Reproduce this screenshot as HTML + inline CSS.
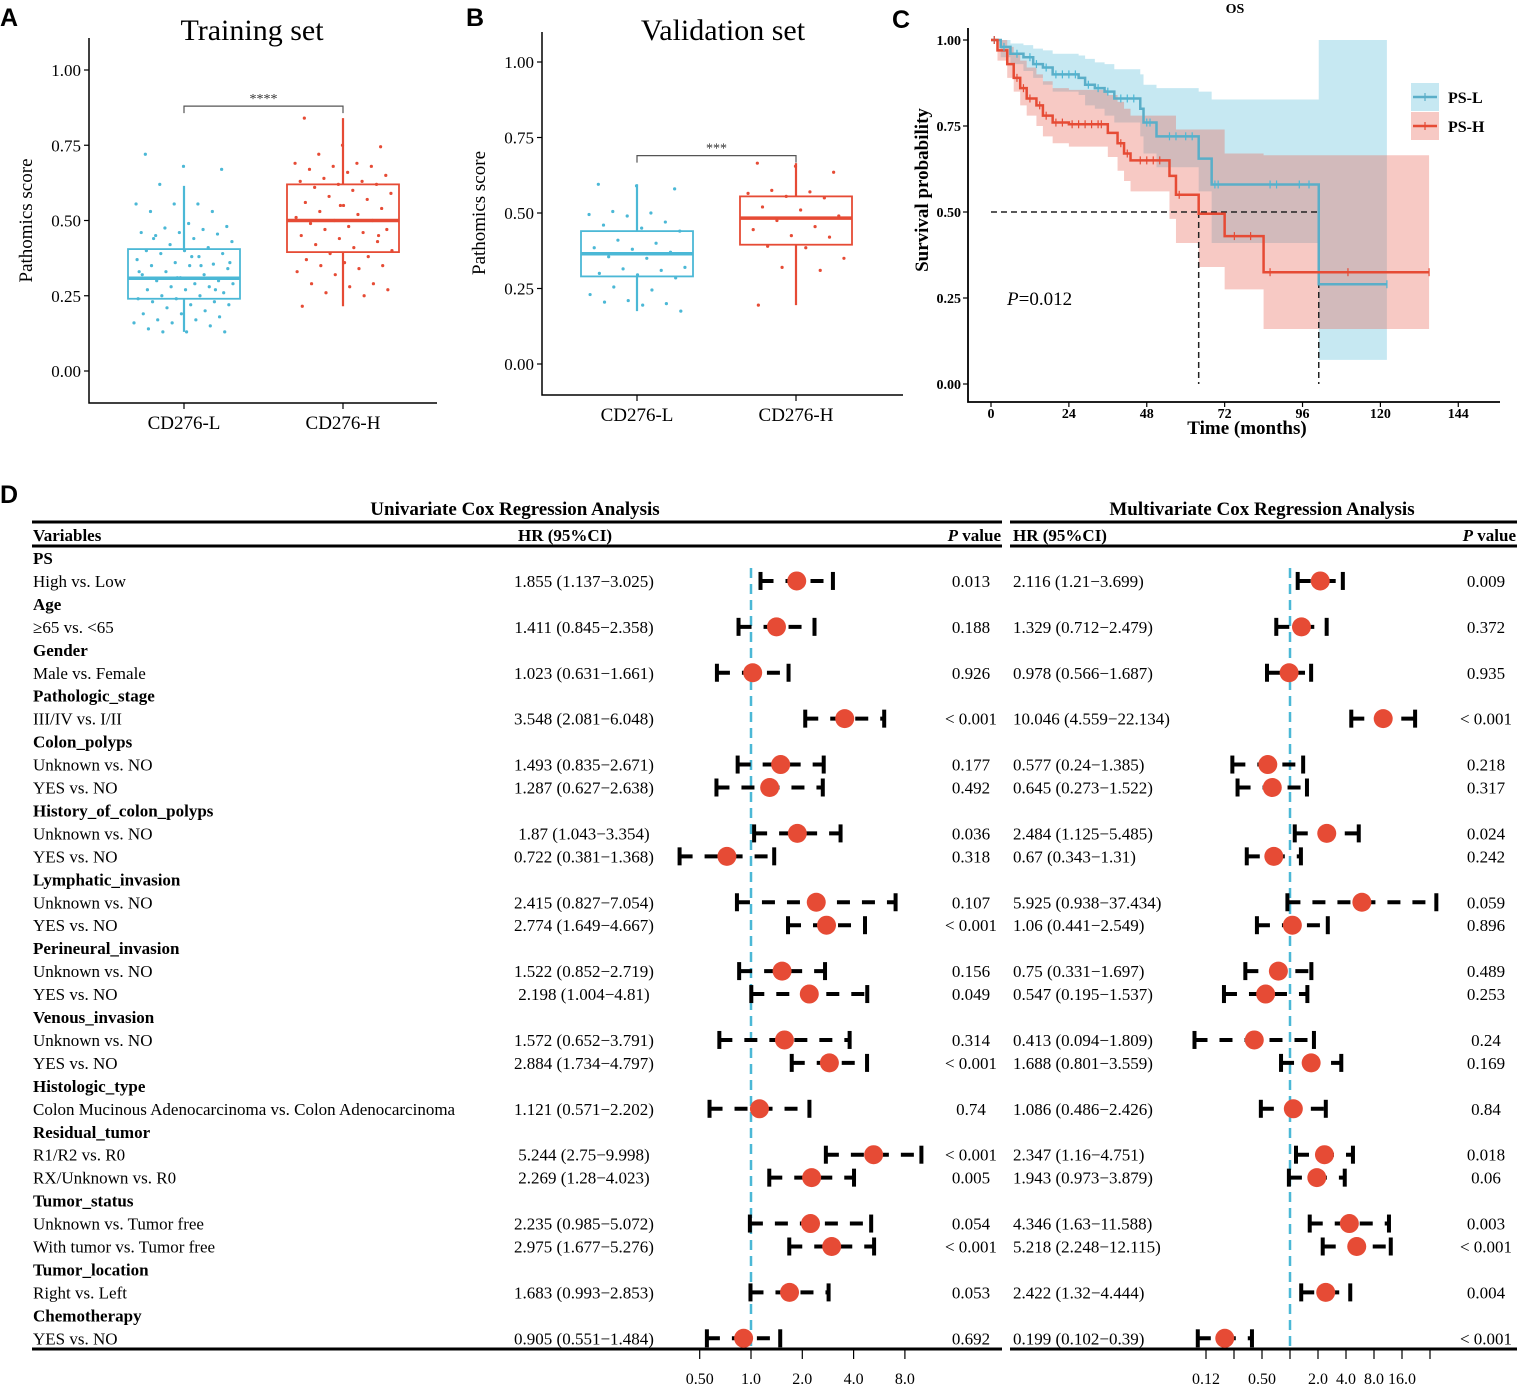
<!DOCTYPE html>
<html><head><meta charset="utf-8">
<style>
html,body{margin:0;padding:0;background:#fff;}
svg{display:block;font-family:"Liberation Serif",serif;}
</style></head>
<body>
<svg id="fig" width="1523" height="1389" viewBox="0 0 1523 1389" xmlns="http://www.w3.org/2000/svg">
<g id="pA"></g>
<g id="pB"></g>
<g id="pC"></g>
<g id="pD"></g>
</svg>
<script>
// ---------- Panel A / B data ----------
const boxCategories = ["CD276-L","CD276-H"];
const trainQ1 = [0.24,0.395], trainMed=[0.308,0.50], trainQ3=[0.405,0.62], trainLo=[0.13,0.215], trainHi=[0.615,0.84];
const trainPtsL = [0.72,0.68,0.67,0.62,0.555,0.555,0.555,0.53,0.53,0.49,0.48,0.475,0.47,0.46,0.46,0.455,0.45,0.44,0.43,0.42,0.41,0.40,0.40,0.39,0.39,0.38,0.37,0.36,0.355,0.35,0.35,0.34,0.33,0.32,0.32,0.31,0.30,0.30,0.29,0.29,0.28,0.28,0.27,0.27,0.26,0.25,0.25,0.24,0.24,0.23,0.23,0.22,0.22,0.21,0.20,0.19,0.19,0.18,0.17,0.17,0.16,0.16,0.15,0.14,0.13,0.13,0.13,0.35,0.33,0.31,0.27,0.44,0.38,0.36];
const trainPtsH = [0.84,0.75,0.745,0.72,0.69,0.69,0.68,0.68,0.67,0.66,0.65,0.64,0.63,0.63,0.62,0.62,0.61,0.60,0.59,0.58,0.57,0.56,0.55,0.54,0.53,0.52,0.51,0.50,0.50,0.49,0.48,0.47,0.47,0.46,0.45,0.44,0.43,0.42,0.41,0.40,0.39,0.38,0.37,0.36,0.35,0.35,0.34,0.33,0.32,0.29,0.29,0.28,0.27,0.26,0.25,0.215,0.55,0.45];
const validQ1 = [0.29,0.395], validMed=[0.365,0.483], validQ3=[0.44,0.555], validLo=[0.175,0.195], validHi=[0.595,0.665];
const validPtsL = [0.595,0.59,0.58,0.505,0.5,0.495,0.49,0.47,0.46,0.45,0.44,0.41,0.40,0.385,0.38,0.37,0.355,0.35,0.32,0.315,0.31,0.30,0.295,0.285,0.255,0.245,0.23,0.21,0.20,0.205,0.195,0.175];
const validPtsH = [0.665,0.655,0.635,0.575,0.57,0.565,0.555,0.55,0.52,0.51,0.49,0.475,0.455,0.445,0.425,0.42,0.39,0.385,0.35,0.32,0.31,0.195];

// ---------- Panel C data ----------
const timeTicks = [0,24,48,72,96,120,144];
const survTicks = [0,0.25,0.5,0.75,1.0];
const kmLTime = [0,3,6,10,13,16,19,27,29,32,35,38,46,47,51,64,68,101];
const kmLSurv = [1,0.98,0.96,0.95,0.93,0.92,0.90,0.89,0.87,0.86,0.85,0.83,0.80,0.76,0.72,0.655,0.58,0.29];
const kmLUp   = [1,1,0.99,0.985,0.975,0.97,0.96,0.955,0.945,0.935,0.93,0.915,0.90,0.87,0.86,0.85,0.827,1.0];
const kmLLow  = [1,0.95,0.93,0.91,0.89,0.87,0.85,0.84,0.81,0.80,0.78,0.76,0.72,0.67,0.63,0.56,0.41,0.07];
const kmLEnd = 122;
const kmHTime = [0,2,5,7,9,11,14,16,19,24,36,39,41,43,55,57,64,72,84];
const kmHSurv = [1,0.97,0.93,0.89,0.86,0.83,0.81,0.78,0.76,0.755,0.73,0.70,0.67,0.65,0.605,0.55,0.495,0.43,0.325];
const kmHUp   = [1,1,0.98,0.96,0.94,0.92,0.90,0.88,0.86,0.855,0.84,0.82,0.80,0.78,0.78,0.74,0.74,0.67,0.665];
const kmHLow  = [1,0.94,0.89,0.85,0.81,0.78,0.75,0.72,0.70,0.69,0.66,0.62,0.59,0.56,0.48,0.41,0.34,0.275,0.16];
const kmHEnd = 135;
const censorL = [1,4,8,12,14,17,20,22,24,26,30,33,36,40,42,44,48,49,55,57,60,62,69,70,86,88,95,98,122];
const censorH = [1,8,10,12,15,17,20,22,25,27,29,31,33,34,40,42,46,48,50,52,58,75,80,86,110,135];

// ---------- Panel D data ----------
const forestLabels = ["PS","High vs. Low","Age","≥65 vs. <65","Gender","Male vs. Female","Pathologic_stage","III/IV vs. I/II","Colon_polyps","Unknown vs. NO","YES vs. NO","History_of_colon_polyps","Unknown vs. NO","YES vs. NO","Lymphatic_invasion","Unknown vs. NO","YES vs. NO","Perineural_invasion","Unknown vs. NO","YES vs. NO","Venous_invasion","Unknown vs. NO","YES vs. NO","Histologic_type","Colon Mucinous Adenocarcinoma vs. Colon Adenocarcinoma","Residual_tumor","R1/R2 vs. R0","RX/Unknown vs. R0","Tumor_status","Unknown vs. Tumor free","With tumor vs. Tumor free","Tumor_location","Right vs. Left","Chemotherapy","YES vs. NO"];
const forestHeader = [1,0,1,0,1,0,1,0,1,0,0,1,0,0,1,0,0,1,0,0,1,0,0,1,0,1,0,0,1,0,0,1,0,1,0];
const uniHR = [1.855,1.411,1.023,3.548,1.493,1.287,1.87,0.722,2.415,2.774,1.522,2.198,1.572,2.884,1.121,5.244,2.269,2.235,2.975,1.683,0.905];
const uniLo = [1.137,0.845,0.631,2.081,0.835,0.627,1.043,0.381,0.827,1.649,0.852,1.004,0.652,1.734,0.571,2.75,1.28,0.985,1.677,0.993,0.551];
const uniHi = [3.025,2.358,1.661,6.048,2.671,2.638,3.354,1.368,7.054,4.667,2.719,4.81,3.791,4.797,2.202,9.998,4.023,5.072,5.276,2.853,1.484];
const uniP = ["0.013","0.188","0.926","< 0.001","0.177","0.492","0.036","0.318","0.107","< 0.001","0.156","0.049","0.314","< 0.001","0.74","< 0.001","0.005","0.054","< 0.001","0.053","0.692"];
const mulHR = [2.116,1.329,0.978,10.046,0.577,0.645,2.484,0.67,5.925,1.06,0.75,0.547,0.413,1.688,1.086,2.347,1.943,4.346,5.218,2.422,0.199];
const mulLo = [1.21,0.712,0.566,4.559,0.24,0.273,1.125,0.343,0.938,0.441,0.331,0.195,0.094,0.801,0.486,1.16,0.973,1.63,2.248,1.32,0.102];
const mulHi = [3.699,2.479,1.687,22.134,1.385,1.522,5.485,1.31,37.434,2.549,1.697,1.537,1.809,3.559,2.426,4.751,3.879,11.588,12.115,4.444,0.39];
const mulP = ["0.009","0.372","0.935","< 0.001","0.218","0.317","0.024","0.242","0.059","0.896","0.489","0.253","0.24","0.169","0.84","0.018","0.06","0.003","< 0.001","0.004","< 0.001"];
const uniTicks = [0.5,1,2,4,8], uniTickLabels=["0.50","1.0","2.0","4.0","8.0"];
const mulTicks = [0.125,0.25,0.5,1,2,4,8,16,32], mulTickLabels=["0.12","","0.50","","2.0","4.0","8.0","16.0",""];

const NS="http://www.w3.org/2000/svg";
function mk(parent,tag,attrs,txt){const e=document.createElementNS(NS,tag);for(const k in attrs)e.setAttribute(k,attrs[k]);if(txt!==undefined)e.textContent=txt;parent.appendChild(e);return e;}
const BLUE="#4bb8d6", RED="#e64b35";

function boxPanel(g,o){
  const y=v=>o.y0 - v*o.sy;
  const ax=mk(g,'path',{d:`M${o.ax} ${o.top}V${o.bot}H${o.right}`,stroke:'#000','stroke-width':1.5,fill:'none'});
  
  [0,0.25,0.5,0.75,1].forEach(v=>{
    mk(g,'line',{x1:o.ax-5,x2:o.ax,y1:y(v),y2:y(v),stroke:'#000','stroke-width':1.2});
    const t=mk(g,'text',{x:o.ax-8,y:y(v)+6,'text-anchor':'end','font-size':17},v.toFixed(2));
    
  });
  const yl=mk(g,'text',{transform:`translate(${o.ax-57},${y(0.5)}) rotate(-90)`,'text-anchor':'middle','font-size':19},'Pathomics score');
  
  const tt=mk(g,'text',{x:o.titleX,y:40,'text-anchor':'middle','font-size':30},o.title);
  
  const cols=[BLUE,RED];
  for(let i=0;i<2;i++){
    const cx=o.cx[i], c=cols[i], hw=56;
    mk(g,'line',{x1:cx,x2:cx,y1:o.bot,y2:o.bot+6,stroke:'#000','stroke-width':1.2});
    const xl=mk(g,'text',{x:cx,y:o.bot+26,'text-anchor':'middle','font-size':19},boxCategories[i]);
    
    const wh=mk(g,'line',{x1:cx,x2:cx,y1:y(o.lo[i]),y2:y(o.hi[i]),stroke:c,'stroke-width':2.2});
    
    const bx=mk(g,'rect',{x:cx-hw,y:y(o.q3[i]),width:hw*2,height:y(o.q1[i])-y(o.q3[i]),fill:'#fff',stroke:c,'stroke-width':1.8});
    
    const md=mk(g,'line',{x1:cx-hw,x2:cx+hw,y1:y(o.med[i]),y2:y(o.med[i]),stroke:c,'stroke-width':3.5});
    
    o.pts[i].forEach((v,k)=>{
      const jx=(((k*37+11)%97)/97-0.5)*100;
      const p=mk(g,'circle',{cx:cx+jx,cy:y(v),r:1.6,fill:c});
      
    });
  }
  const by=y(o.brY);
  const br=mk(g,'path',{d:`M${o.cx[0]} ${by+7}V${by}H${o.cx[1]}V${by+7}`,stroke:'#555','stroke-width':1.2,fill:'none'});
  
  const st=mk(g,'text',{x:(o.cx[0]+o.cx[1])/2,y:by-3,'text-anchor':'middle','font-size':14,fill:'#333'},o.stars);
  
  const lt=mk(g,'text',{x:o.letterX,y:26,'font-size':25,'font-weight':'bold','font-family':'Liberation Sans, sans-serif'},o.letter);
  
}
boxPanel(document.getElementById('pA'),{y0:371,sy:301,ax:89,top:38,bot:403,right:437,cx:[184,343],title:'Training set',titleX:252,
  q1:trainQ1,med:trainMed,q3:trainQ3,lo:trainLo,hi:trainHi,pts:[trainPtsL,trainPtsH],brY:0.88,stars:'****',letter:'A',letterX:0});
boxPanel(document.getElementById('pB'),{y0:364,sy:302,ax:542,top:32,bot:395,right:903,cx:[637,796],title:'Validation set',titleX:723,
  q1:validQ1,med:validMed,q3:validQ3,lo:validLo,hi:validHi,pts:[validPtsL,validPtsH],brY:0.69,stars:'***',letter:'B',letterX:466});

// ---------- Panel C ----------
(function(){
  const g=document.getElementById('pC');
  const x=t=>991+t*3.245, y=s=>384-s*344;
  function band(T,Lo,Up,end){let d=`M${x(T[0])} ${y(Up[0])}`;for(let i=0;i<T.length;i++){const t2=i+1<T.length?T[i+1]:end;d+=`L${x(T[i])} ${y(Up[i])}L${x(t2)} ${y(Up[i])}`;}
    for(let i=T.length-1;i>=0;i--){const t2=i+1<T.length?T[i+1]:end;d+=`L${x(t2)} ${y(Lo[i])}L${x(T[i])} ${y(Lo[i])}`;}return d+'Z';}
  function step(T,S,end){let d=`M${x(T[0])} ${y(S[0])}`;for(let i=0;i<T.length;i++){const t2=i+1<T.length?T[i+1]:end;d+=`L${x(T[i])} ${y(S[i])}L${x(t2)} ${y(S[i])}`;}return d;}
  function survAt(T,S,t){let s=S[0];for(let i=0;i<T.length;i++)if(T[i]<=t)s=S[i];return s;}
  const b1=mk(g,'path',{d:band(kmLTime,kmLLow,kmLUp,kmLEnd),fill:'rgba(120,200,225,0.42)'});
  
  const b2=mk(g,'path',{d:band(kmHTime,kmHLow,kmHUp,kmHEnd),fill:'rgba(232,100,85,0.35)'});
  
  const dl=mk(g,'path',{d:`M${x(0)} ${y(0.5)}H${x(101)}M${x(64)} ${y(0.5)}V${y(0)}M${x(101)} ${y(0.5)}V${y(0)}`,stroke:'#222','stroke-width':1.5,'stroke-dasharray':'6 4',fill:'none'});
  
  const l1=mk(g,'path',{d:step(kmLTime,kmLSurv,kmLEnd),stroke:'#5aaec8','stroke-width':2.5,fill:'none'});
  
  const l2=mk(g,'path',{d:step(kmHTime,kmHSurv,kmHEnd),stroke:'#e64b35','stroke-width':2.5,fill:'none'});
  
  censorL.forEach(t=>{const c=mk(g,'line',{x1:x(t),x2:x(t),y1:y(survAt(kmLTime,kmLSurv,t))-4,y2:y(survAt(kmLTime,kmLSurv,t))+4,stroke:BLUE,'stroke-width':1.2});
    });
  censorH.forEach(t=>{const c=mk(g,'line',{x1:x(t),x2:x(t),y1:y(survAt(kmHTime,kmHSurv,t))-4,y2:y(survAt(kmHTime,kmHSurv,t))+4,stroke:RED,'stroke-width':1.2});
    });
  const ax=mk(g,'path',{d:`M968 28V402H1500`,stroke:'#000','stroke-width':1.8,fill:'none'});
  
  survTicks.forEach(s=>{mk(g,'line',{x1:963,x2:968,y1:y(s),y2:y(s),stroke:'#000','stroke-width':1.2});
    const t=mk(g,'text',{x:961,y:y(s)+5,'text-anchor':'end','font-size':14,'font-weight':'bold'},s.toFixed(2));
    });
  timeTicks.forEach(tk=>{mk(g,'line',{x1:x(tk),x2:x(tk),y1:402,y2:407,stroke:'#000','stroke-width':1.2});
    const t=mk(g,'text',{x:x(tk),y:418,'text-anchor':'middle','font-size':14,'font-weight':'bold'},String(tk));
    });
  const xt=mk(g,'text',{x:1247,y:434,'text-anchor':'middle','font-size':19,'font-weight':'bold'},'Time (months)');
  
  const yt=mk(g,'text',{transform:'translate(928,190) rotate(-90)','text-anchor':'middle','font-size':19,'font-weight':'bold'},'Survival probability');
  
  const os=mk(g,'text',{x:1235,y:13,'text-anchor':'middle','font-size':14,'font-weight':'bold'},'OS');
  
  const pv=mk(g,'text',{x:1007,y:305,'font-size':19},'');
  
  mk(pv,'tspan',{'font-style':'italic'},'P');mk(pv,'tspan',{},'=0.012');
  const lt=mk(g,'text',{x:892,y:28,'font-size':25,'font-weight':'bold','font-family':'Liberation Sans, sans-serif'},'C');
  
  [['PS-L','rgba(120,200,225,0.42)','#5aaec8',83],['PS-H','rgba(232,100,85,0.35)',RED,112]].forEach(([n,f,s,yy])=>{
    const le=mk(g,'g',{});
    mk(le,'rect',{x:1411,y:yy,width:28,height:28,fill:f});
    mk(le,'line',{x1:1413,x2:1437,y1:yy+14,y2:yy+14,stroke:s,'stroke-width':2.5});
    mk(le,'line',{x1:1425,x2:1425,y1:yy+10,y2:yy+18,stroke:s,'stroke-width':1.2});
    mk(le,'text',{x:1448,y:yy+20,'font-size':16,'font-weight':'bold'},n);
  });
})();

// ---------- Panel D ----------
(function(){
  const g=document.getElementById('pD');
  const rowY=i=>558+i*22.95;
  const xu=v=>751+Math.log2(v)*51.3, xm=v=>1290+Math.log2(v)*28;
  const lt=mk(g,'text',{x:0,y:503,'font-size':25,'font-weight':'bold','font-family':'Liberation Sans, sans-serif'},'D');
  
  const t1=mk(g,'text',{x:515,y:515,'text-anchor':'middle','font-size':19,'font-weight':'bold'},'Univariate  Cox Regression Analysis');
  
  const t2=mk(g,'text',{x:1262,y:515,'text-anchor':'middle','font-size':19,'font-weight':'bold'},'Multivariate  Cox Regression Analysis');
  
  [[32,1002],[1010,1517]].forEach(([a,b])=>{
    mk(g,'line',{x1:a,x2:b,y1:522,y2:522,stroke:'#000','stroke-width':3});
    mk(g,'line',{x1:a,x2:b,y1:546,y2:546,stroke:'#000','stroke-width':3});
    mk(g,'line',{x1:a,x2:b,y1:1349,y2:1349,stroke:'#000','stroke-width':3});
  });
  const hdr=[[33,'start','Variables'],[565,'middle','HR (95%CI)'],[1013,'start','HR (95%CI)']];
  hdr.forEach(([xx,an,s])=>{const t=mk(g,'text',{x:xx,y:541,'text-anchor':an,'font-size':17,'font-weight':'bold'},s);
    });
  [[1001],[1516]].forEach(([xx])=>{const t=mk(g,'text',{x:xx,y:541,'text-anchor':'end','font-size':17,'font-weight':'bold'},'');
    
    mk(t,'tspan',{'font-style':'italic'},'P');mk(t,'tspan',{},' value');});
  const r1=mk(g,'line',{x1:xu(1),x2:xu(1),y1:568,y2:1349,stroke:BLUE,'stroke-width':2.5,'stroke-dasharray':'10 6'});
  
  const r2=mk(g,'line',{x1:xm(1),x2:xm(1),y1:568,y2:1349,stroke:BLUE,'stroke-width':2.5,'stroke-dasharray':'10 6'});
  
  function ci(xf,lo,hi,hr,yy,name){
    const e=mk(g,'g',{});
    mk(e,'line',{x1:xf(lo),x2:xf(hi),y1:yy,y2:yy,stroke:'#000','stroke-width':4,'stroke-dasharray':'13 12'});
    mk(e,'line',{x1:xf(lo),x2:xf(lo),y1:yy-9,y2:yy+9,stroke:'#000','stroke-width':4});
    mk(e,'line',{x1:xf(hi),x2:xf(hi),y1:yy-9,y2:yy+9,stroke:'#000','stroke-width':4});
    mk(e,'circle',{cx:xf(hr),cy:yy,r:9.5,fill:RED});
  }
  let k=0;
  forestLabels.forEach((lab,i)=>{
    const yy=rowY(i);
    const t=mk(g,'text',{x:33,y:yy+6,'font-size':17,'font-weight':forestHeader[i]?'bold':'normal'},lab);
    
    
    if(!forestHeader[i]){
      const a=mk(g,'text',{x:584,y:yy+6,'text-anchor':'middle','font-size':17},`${uniHR[k]} (${uniLo[k]}−${uniHi[k]})`);
      
      const b=mk(g,'text',{x:971,y:yy+6,'text-anchor':'middle','font-size':17},uniP[k]);
      
      const c=mk(g,'text',{x:1013,y:yy+6,'font-size':17},`${mulHR[k]} (${mulLo[k]}−${mulHi[k]})`);
      
      const d=mk(g,'text',{x:1486,y:yy+6,'text-anchor':'middle','font-size':17},mulP[k]);
      
      ci(xu,uniLo[k],uniHi[k],uniHR[k],yy,'univariate-ci');
      ci(xm,mulLo[k],mulHi[k],mulHR[k],yy,'multivariate-ci');
      k++;
    }
  });
  uniTicks.forEach((v,i)=>{mk(g,'line',{x1:xu(v),x2:xu(v),y1:1349,y2:1359,stroke:'#000','stroke-width':1.2});
    const t=mk(g,'text',{x:xu(v),y:1384,'text-anchor':'middle','font-size':16},uniTickLabels[i]);
    });
  mulTicks.forEach((v,i)=>{mk(g,'line',{x1:xm(v),x2:xm(v),y1:1349,y2:1359,stroke:'#000','stroke-width':1.2});
    const t=mk(g,'text',{x:xm(v),y:1384,'text-anchor':'middle','font-size':16},mulTickLabels[i]);
    });
})();
</script>
</body></html>
